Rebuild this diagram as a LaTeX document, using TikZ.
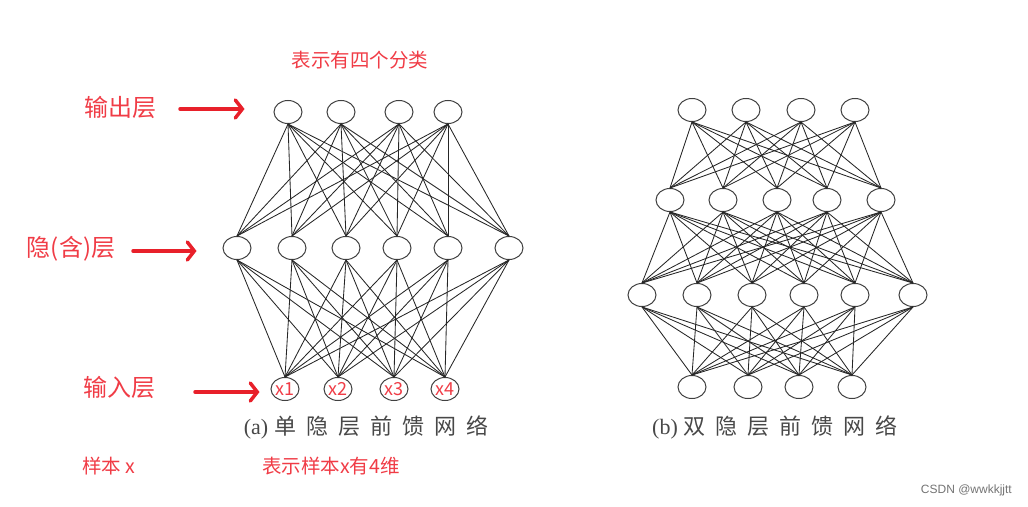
\documentclass[tikz,border=0pt]{standalone}
\usepackage{fontspec}
\setmainfont{Liberation Serif}
\newfontfamily\cjk{Noto Sans CJK SC}
\newfontfamily\sansf{Liberation Sans}
\usetikzlibrary{shapes.geometric,arrows.meta}
\definecolor{lblred}{HTML}{F03C46}
\definecolor{arrred}{HTML}{E8202A}
\definecolor{capgray}{HTML}{484848}
\newcommand\cgap{\hspace{10pt}}
\begin{document}
\begin{tikzpicture}[x=1pt,y=-1pt,
 neuron/.style={ellipse, draw=black!75, line width=1pt, minimum width=28pt, minimum height=23pt, inner sep=0pt, fill=white},
 link/.style={draw=black!85, line width=0.85pt},
 redarrow/.style={draw=arrred, line width=3.5pt, line cap=round, -{Straight Barb[length=7pt,width=18pt,line cap=round]}},
 redlbl/.style={text=lblred, font=\cjk\fontsize{24}{26}\selectfont, inner sep=0pt},
 note/.style={text=lblred, font=\cjk\fontsize{19.5}{21}\selectfont, inner sep=0pt},
 caption/.style={text=capgray, font=\fontsize{22}{24}\selectfont, inner sep=0pt}]
\useasboundingbox (0,0) rectangle (1028,506);
% ---------- network (a)
\foreach \x [count=\i] in {288,341,399,448} \node[neuron] (aO\i) at (\x,112) {};
\foreach \x [count=\i] in {237,292,346,397,448,509} \node[neuron] (aH\i) at (\x,248) {};
\foreach \x [count=\i] in {285,338,394,445} \node[neuron, text=lblred, font=\cjk\fontsize{18}{18}\selectfont] (aI\i) at (\x,389) {x\i};
\foreach \i in {1,...,4} \foreach \j in {1,...,6} {
  \draw[link] (aO\i.south) -- (aH\j.north);
  \draw[link] (aI\i.north) -- (aH\j.south);
}
% ---------- network (b)
\foreach \x [count=\i] in {692,746,801,855} \node[neuron] (bO\i) at (\x,110) {};
\foreach \x [count=\i] in {670,723,777,827,881} \node[neuron] (bA\i) at (\x,200) {};
\foreach \x [count=\i] in {642,697,752,804,855,913} \node[neuron] (bB\i) at (\x,295) {};
\foreach \x [count=\i] in {692,748,799,852} \node[neuron] (bI\i) at (\x,387) {};
\foreach \i in {1,...,4} \foreach \j in {1,...,5} \draw[link] (bO\i.south) -- (bA\j.north);
\foreach \i in {1,...,5} \foreach \j in {1,...,6} \draw[link] (bA\i.south) -- (bB\j.north);
\foreach \i in {1,...,4} \foreach \j in {1,...,6} \draw[link] (bI\i.north) -- (bB\j.south);
% ---------- captions
\node[caption] (capA) at (366,427) {(a)\hspace{6pt}{\cjk 单\cgap 隐\cgap 层\cgap 前\cgap 馈\cgap 网\cgap 络}};
\node[caption] (capB) at (775,427) {(b)\hspace{6pt}{\cjk 双\cgap 隐\cgap 层\cgap 前\cgap 馈\cgap 网\cgap 络}};
% ---------- red labels and arrows
\node[note] (nTop) at (360,60) {表示有四个分类};
\node[redlbl] (lblO) at (120,107) {输出层};
\node[redlbl] (lblH) at (71,249) {隐(含)层};
\node[redlbl] (lblI) at (119,387) {输入层};
\node[note, anchor=west] (nX) at (82,466) {样本 x};
\node[note, anchor=west] (nDim) at (262,466) {表示样本x有4维};
\coordinate (oS) at (180,109);
\coordinate (hS) at (133,251);
\coordinate (iS) at (195,392);
\draw[redarrow, shorten >=29pt] (oS) -- (oS -| aO1.west);
\draw[redarrow, shorten >=26pt] (hS) -- (hS -| aH1.west);
\draw[redarrow, shorten >=11pt] (iS) -- (iS -| aI1.west);
% ---------- watermark
\node[text=black!55, font=\sansf\fontsize{12}{14}\selectfont, anchor=east, inner sep=0pt] (wm) at (1012,490) {CSDN @wwkkjjtt};
\end{tikzpicture}
\end{document}
